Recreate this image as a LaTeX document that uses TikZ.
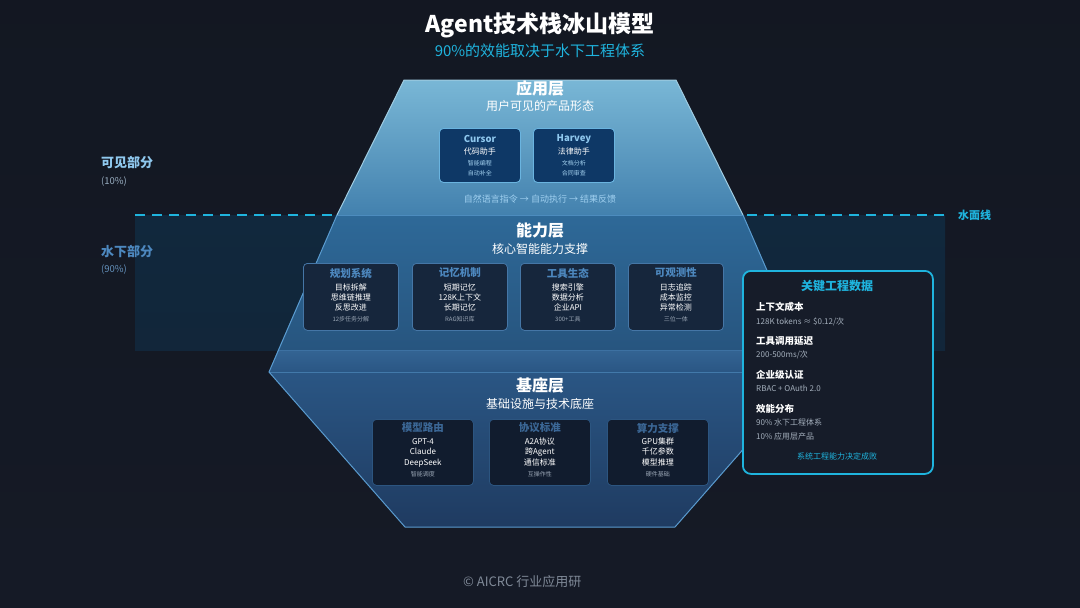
\documentclass[tikz,border=0pt]{standalone}
\usepackage{fontspec}
\setmainfont{Noto Sans CJK SC}
\usepackage{xcolor}
\usepackage{tikz}
\usetikzlibrary{positioning}

\definecolor{bgdark}{HTML}{151A26}
\definecolor{deepwater}{HTML}{11283D}
\definecolor{waterblue}{HTML}{1FB4DE}
\definecolor{applight}{HTML}{79B7D6}
\definecolor{appdark}{HTML}{4381AE}
\definecolor{abilitytop}{HTML}{2E6998}
\definecolor{abilitybot}{HTML}{27557F}
\definecolor{basetop}{HTML}{2A5684}
\definecolor{basebot}{HTML}{1F3B61}
\definecolor{edgeblue}{HTML}{5A9BCF}
\definecolor{appfill}{HTML}{0E3866}
\definecolor{appline}{HTML}{6AB4E0}
\definecolor{apptitle}{HTML}{8FC8EE}
\definecolor{abfill}{HTML}{16263C}
\definecolor{abline}{HTML}{4576A6}
\definecolor{abtitle}{HTML}{4D88BF}
\definecolor{basefill}{HTML}{111C2E}
\definecolor{baseline}{HTML}{2C5580}
\definecolor{basetitle}{HTML}{3B6796}
\definecolor{softgrey}{HTML}{9AA6B5}
\definecolor{panelfill}{HTML}{161C29}

\begin{document}
\begin{tikzpicture}[x=1pt,y=-1pt,
  every node/.style={inner sep=0pt,execute at begin node={\vrule width 0pt height .82em depth .1em}},
  headline/.style={text=white,font=\fontsize{16}{18}\selectfont\bfseries},
  subline/.style={text=white,font=\fontsize{12}{14}\selectfont},
  appcard/.style={draw=appline,fill=appfill,rounded corners=4pt,line width=0.9pt,
    anchor=north west,minimum width=81,minimum height=54},
  abcard/.style={draw=abline,fill=abfill,rounded corners=4pt,line width=0.8pt,
    anchor=north west,minimum width=95,minimum height=67},
  basecard/.style={draw=baseline,fill=basefill,rounded corners=4pt,line width=0.8pt,
    anchor=north west,minimum width=101,minimum height=66},
  cardtext/.style={text=white,font=\fontsize{8}{9}\selectfont},
  cardsmall/.style={text=softgrey,font=\fontsize{6}{7}\selectfont},
  panelhead/.style={anchor=west,text=white,font=\fontsize{9.5}{11}\selectfont\bfseries},
  panelline/.style={anchor=west,text=softgrey!90!white,font=\fontsize{8}{9}\selectfont}]

\useasboundingbox (0,0) rectangle (1080,608);
\shade[top color=bgdark!90!black,bottom color=bgdark] (0,0) rectangle (1080,608);

% title
\node[text=white,font=\fontsize{23}{26}\selectfont\bfseries] (title) at (540,25) {Agent技术栈冰山模型};
\node[text=waterblue,font=\fontsize{15}{17}\selectfont] (subtitle) at (540,51) {90\%的效能取决于水下工程体系};

% under water area and water line
\shade[top color=deepwater,bottom color=deepwater!85!bgdark] (135,215) rectangle (945,350);
\coordinate (wl-start) at (135,215);
\coordinate (wl-end) at (945,215);
\draw[waterblue,line width=2.2pt,dash pattern=on 10pt off 7pt] (wl-start) -- (wl-end);
\node[anchor=west,text=waterblue,font=\fontsize{11}{13}\selectfont\bfseries] (wl-label) at (958,215) {水面线};

% left labels
\node[anchor=west,text=apptitle,font=\fontsize{13}{15}\selectfont\bfseries] (vis) at (101,163) {可见部分};
\node[anchor=west,text=softgrey!80!apptitle,font=\fontsize{9.5}{11}\selectfont] (vis-pct) at (101,182) {(10\%)};
\node[anchor=west,text=abtitle,font=\fontsize{13}{15}\selectfont\bfseries] (sub) at (101,252) {水下部分};
\node[anchor=west,text=abtitle!70!softgrey,font=\fontsize{9.5}{11}\selectfont] (sub-pct) at (101,270) {(90\%)};

% iceberg
\shade[top color=basetop!80!edgeblue,bottom color=basetop] (278,350) -- (802,350) -- (811,372) -- (269,372) -- cycle;
\shade[top color=basetop,bottom color=basebot] (269,372) -- (811,372) -- (675,527) -- (405,527) -- cycle;
\shade[top color=abilitytop,bottom color=abilitybot] (337,215) -- (743,215) -- (802,350) -- (278,350) -- cycle;
\shade[top color=applight,bottom color=appdark] (404,80) -- (676,80) -- (743,215) -- (337,215) -- cycle;
\draw[edgeblue!70!abilitytop,line width=0.8pt] (337,215) -- (743,215);
\draw[edgeblue!40!basetop,line width=0.8pt] (278,350) -- (802,350);
\draw[edgeblue!50!basetop,line width=0.8pt] (269,372) -- (811,372);
\draw[applight!70!white,line width=1pt] (337,215) -- (404,80) -- (676,80) -- (743,215);
\draw[edgeblue,line width=1pt] (337,215) -- (269,372) -- (405,527) -- (675,527) -- (811,372) -- (743,215);

% application layer
\node[headline] (app) at (540,88) {应用层};
\node[subline] (app-sub) at (540,106) {用户可见的产品形态};
\foreach \nm/\x/\ttl/\main/\la/\lb in {cursor/439/Cursor/代码助手/智能编程/自动补全,
    harvey/533/Harvey/法律助手/文档分析/合同审查} {
  \node[appcard] (\nm) at (\x,128) {};
  \node[text=apptitle,font=\fontsize{9.5}{11}\selectfont\bfseries] (\nm-t) at ([yshift=-11pt]\nm.north) {\ttl};
  \node[cardtext] (\nm-a) at ([yshift=-24pt]\nm.north) {\main};
  \node[cardsmall,text=apptitle!80!white] (\nm-b) at ([yshift=-35pt]\nm.north) {\la};
  \node[cardsmall,text=apptitle!80!white] (\nm-c) at ([yshift=-45pt]\nm.north) {\lb};
}
\node[text=apptitle!85!white,font=\fontsize{9}{10}\selectfont] (flow) at (540,199) {自然语言指令 → 自动执行 → 结果反馈};

% ability layer
\node[headline] (ability) at (540,230) {能力层};
\node[subline] (ability-sub) at (540,249) {核心智能能力支撑};
\foreach \nm/\x/\ttl/\la/\lb/\lc/\ld in {plan/303/规划系统/目标拆解/思维链推理/反思改进/12步任务分解,
    memory/412/记忆机制/短期记忆/128K上下文/长期记忆/RAG知识库,
    tools/520/工具生态/搜索引擎/数据分析/企业API/300+工具,
    observe/628/可观测性/日志追踪/成本监控/异常检测/三位一体} {
  \node[abcard] (\nm) at (\x,263) {};
  \node[text=abtitle,font=\fontsize{10.5}{12}\selectfont\bfseries] (\nm-t) at ([yshift=-10pt]\nm.north) {\ttl};
  \node[cardtext] (\nm-a) at ([yshift=-25pt]\nm.north) {\la};
  \node[cardtext] (\nm-b) at ([yshift=-35pt]\nm.north) {\lb};
  \node[cardtext] (\nm-c) at ([yshift=-45pt]\nm.north) {\lc};
  \node[cardsmall] (\nm-d) at ([yshift=-56pt]\nm.north) {\ld};
}

% base layer
\node[headline] (base) at (540,385) {基座层};
\node[subline] (base-sub) at (540,404) {基础设施与技术底座};
\foreach \nm/\x/\ttl/\la/\lb/\lc/\ld in {routing/372/模型路由/GPT-4/Claude/DeepSeek/智能调度,
    protocol/489/协议标准/A2A协议/跨Agent/通信标准/互操作性,
    compute/607/算力支撑/GPU集群/千亿参数/模型推理/硬件基础} {
  \node[basecard] (\nm) at (\x,419) {};
  \node[text=basetitle,font=\fontsize{10.5}{12}\selectfont\bfseries] (\nm-t) at ([yshift=-9pt]\nm.north) {\ttl};
  \node[cardtext] (\nm-a) at ([yshift=-23pt]\nm.north) {\la};
  \node[cardtext] (\nm-b) at ([yshift=-33pt]\nm.north) {\lb};
  \node[cardtext] (\nm-c) at ([yshift=-44pt]\nm.north) {\lc};
  \node[cardsmall] (\nm-d) at ([yshift=-55pt]\nm.north) {\ld};
}

% key data panel
\node[draw=waterblue,fill=panelfill,line width=1.8pt,rounded corners=8pt,anchor=north west,
  minimum width=190,minimum height=203] (panel) at (742,270) {};
\node[text=waterblue,font=\fontsize{12}{14}\selectfont\bfseries] (panel-t) at (837,286) {关键工程数据};
\node[panelhead] (cost) at (756,307) {上下文成本};
\node[panelline] (cost-v) at (756,322) {128K tokens ≈ \$0.12/次};
\node[panelhead] (latency) at (756,341) {工具调用延迟};
\node[panelline] (latency-v) at (756,355) {200-500ms/次};
\node[panelhead] (auth) at (756,375) {企业级认证};
\node[panelline] (auth-v) at (756,389) {RBAC + OAuth 2.0};
\node[panelhead] (share) at (756,409) {效能分布};
\node[panelline] (share-a) at (756,423) {90\% 水下工程体系};
\node[panelline] (share-b) at (756,437) {10\% 应用层产品};
\node[text=waterblue,font=\fontsize{8}{9}\selectfont] (panel-note) at (837,457) {系统工程能力决定成败};

% footer
\node[anchor=west,text=softgrey!80!bgdark,font=\fontsize{13}{15}\selectfont] (footer) at (463,582) {© AICRC 行业应用研};
\end{tikzpicture}
\end{document}
